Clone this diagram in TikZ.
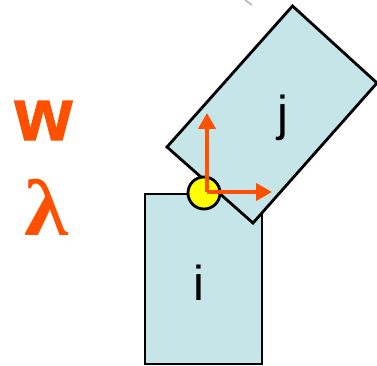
\documentclass[tikz,border=0pt]{standalone}
\usepackage{fontspec}
\setmainfont{Liberation Sans}
\newfontfamily\lamfont{Liberation Serif}
\newfontfamily\wfont[FakeBold=1.5]{Liberation Sans Bold}
\definecolor{pale}{HTML}{C5E5E8}
\definecolor{orng}{HTML}{FF5000}
\definecolor{yell}{HTML}{FFFF00}
\usetikzlibrary{arrows.meta}
\tikzset{
  body/.style={draw=black,line width=2.8pt,fill=pale,line join=miter},
  axis/.style={draw=orng,line width=4.4pt,-{Triangle[length=16pt,width=17pt]}},
  lab/.style={inner sep=0pt,text=black},
  big/.style={inner sep=0pt,text=orng},
}
\begin{document}
\begin{tikzpicture}[x=1pt,y=-1pt]
\useasboundingbox (0,0) rectangle (377,366);
\draw[gray!60,line width=1.5pt] (245,0) -- (252,5);
\draw[body] (145,194) rectangle (262,364);
\draw[body] (292.5,6) -- (377,83) -- (253,223) -- (167,147) -- cycle;
\node[lab,font=\fontsize{49}{49}\selectfont] (ilab) at (199,283) {i};
\node[lab,font=\fontsize{49}{49}\selectfont] (jlab) at (283,118) {j};
\node[big,font=\fontsize{74}{74}\selectfont\wfont] (w) at (43.5,120.5) {w};
\node[big,font=\fontsize{80}{80}\selectfont\lamfont\bfseries,xscale=1.12] (lam) at (46.5,207) {λ};
\node[circle,draw=black,line width=2.8pt,fill=yell,minimum size=32pt,inner sep=0pt] (joint) at (204,193) {};
\coordinate (o) at (207,192);
\coordinate (up) at (207,113);
\coordinate (rt) at (272,192);
\draw[axis] (o) -- (up);
\draw[axis] (o) -- (rt);
\end{tikzpicture}
\end{document}
